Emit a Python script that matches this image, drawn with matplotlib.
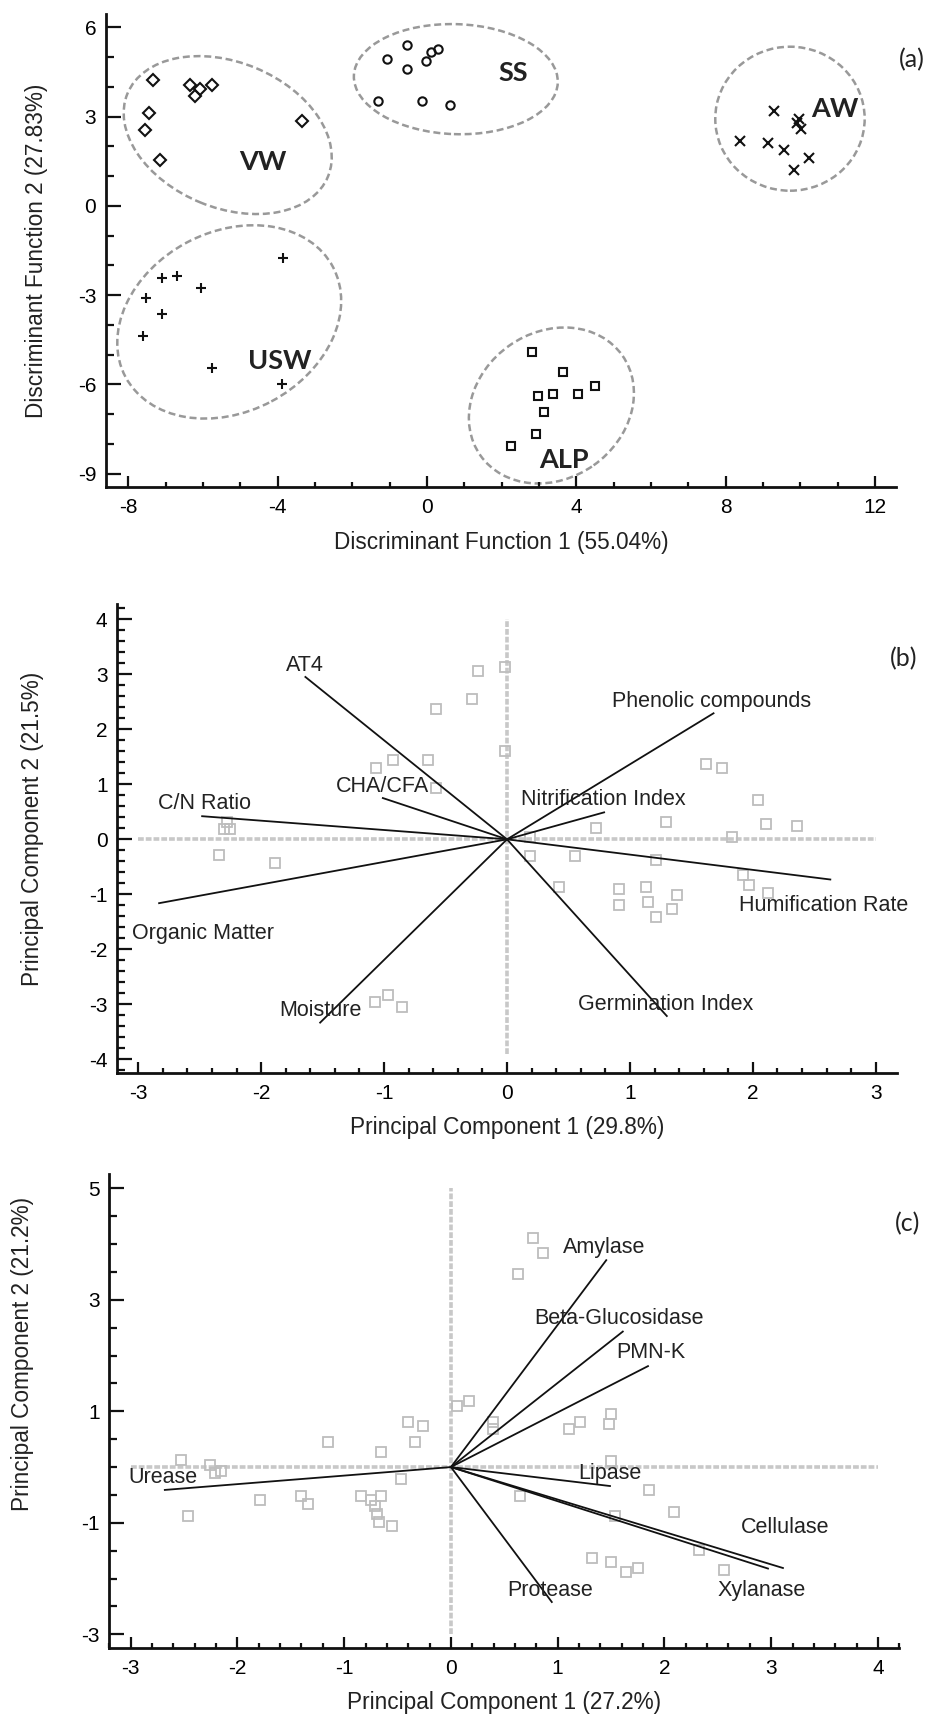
import matplotlib
matplotlib.use("Agg")
import matplotlib.pyplot as plt
from matplotlib.patches import Ellipse
from matplotlib.transforms import ScaledTranslation
from matplotlib.ticker import MultipleLocator

plt.rcParams['font.family'] = ['Liberation Sans', 'DejaVu Sans']
plt.rcParams['axes.unicode_minus'] = False

# ---------------- Panel (a) data: discriminant scores ----------------
vw_x = [-7.34, -7.44, -7.56, -7.15, -6.34, -6.09, -6.21, -5.76, -3.34]
vw_y = [4.24, 3.11, 2.56, 1.55, 4.06, 3.93, 3.68, 4.06, 2.84]
ss_x = [-1.08, -0.53, -0.53, -0.02, 0.11, 0.28, -1.32, -0.13, 0.61]
ss_y = [4.93, 5.41, 4.60, 4.86, 5.18, 5.27, 3.51, 3.51, 3.39]
aw_x = [9.28, 9.95, 9.91, 10.01, 8.38, 9.12, 9.57, 10.24, 9.84]
aw_y = [3.18, 2.92, 2.77, 2.58, 2.17, 2.10, 1.89, 1.62, 1.22]
usw_x = [-3.85, -7.11, -6.71, -6.05, -7.52, -7.11, -7.62, -5.77, -3.89]
usw_y = [-1.74, -2.42, -2.36, -2.75, -3.10, -3.64, -4.37, -5.46, -6.00]
alp_x = [2.80, 3.65, 4.49, 2.97, 3.36, 4.04, 3.14, 2.92, 2.24]
alp_y = [-4.91, -5.58, -6.06, -6.39, -6.32, -6.32, -6.92, -7.67, -8.08]
group_names = ["VW", "SS", "AW", "USW", "ALP"]

# ---------------- Panel (b) data: PCA of physico-chemical variables ----------------
b_scores_x = [-0.574, -1.062, -0.927, -0.642, -0.574, -2.28, -2.30, -2.25, -2.34, -1.89,
              -0.236, -0.019, -0.287, -0.019, 1.615, 1.75, 2.04, 1.296, 2.105, 2.36,
              0.721, 1.83, 0.185, 0.185, 0.55, 1.215, 1.92, 1.97, 2.12, 0.42,
              0.908, 1.128, 1.38, 0.908, 1.144, 1.345, 1.209, -1.076, -0.967, -0.858]
b_scores_y = [2.37, 1.29, 1.44, 1.44, 0.93, 0.31, 0.19, 0.19, -0.28, -0.43,
              3.05, 3.13, 2.55, 1.61, 1.36, 1.29, 0.72, 0.31, 0.28, 0.24,
              0.21, 0.04, 0.04, -0.30, -0.30, -0.37, -0.65, -0.83, -0.98, -0.87,
              -0.91, -0.86, -1.01, -1.19, -1.13, -1.27, -1.42, -2.96, -2.82, -3.04]
b_vars = ["AT4", "CHA/CFA", "C/N Ratio", "Organic Matter", "Moisture",
          "Phenolic compounds", "Nitrification Index", "Humification Rate", "Germination Index"]
b_load_x = [-1.64, -1.01, -2.48, -2.83, -1.52, 1.68, 0.79, 2.63, 1.30]
b_load_y = [2.95, 0.75, 0.42, -1.16, -3.33, 2.29, 0.49, -0.73, -3.21]

# ---------------- Panel (c) data: PCA of enzymatic activities ----------------
c_scores_x = [0.766, 0.867, 0.632, 0.172, 0.053, 1.496, 1.205, 0.39, 0.39, 1.104,
              1.477, 1.496, 1.853, 0.648, 2.087, 1.533, 2.325, 1.32, 1.496, 1.637,
              1.752, 2.56, -0.398, -0.257, -0.338, -1.149, -0.652, -2.526, -2.254, -2.15,
              -2.207, -0.47, -1.79, -1.40, -1.337, -0.845, -0.746, -0.652, -0.711, -0.689,
              -0.673, -0.554, -2.464]
c_scores_y = [4.10, 3.84, 3.47, 1.18, 1.10, 0.96, 0.81, 0.81, 0.68, 0.68,
              0.78, 0.10, -0.41, -0.51, -0.80, -0.88, -1.49, -1.63, -1.71, -1.89,
              -1.81, -1.85, 0.81, 0.74, 0.45, 0.45, 0.27, 0.13, 0.04, -0.07,
              -0.11, -0.22, -0.59, -0.52, -0.66, -0.52, -0.59, -0.52, -0.69, -0.84,
              -0.98, -1.06, -0.88]
c_vars = ["Amylase", "Beta-Glucosidase", "PMN-K", "Lipase", "Cellulase",
          "Xylanase", "Protease", "Urease"]
c_load_x = [1.455, 1.61, 1.846, 1.49, 3.11, 2.97, 0.945, -2.68]
c_load_y = [3.71, 2.43, 1.81, -0.34, -1.81, -1.82, -2.42, -0.41]

# ---------------- layout / style (not data) ----------------
W, H = 928, 1716
fig = plt.figure(figsize=(W / 100, H / 100), dpi=100)

def axes_px(l, t, r, b):
    return fig.add_axes([l / W, 1 - b / H, (r - l) / W, (b - t) / H])

TICK_FS = 15
LABEL_FS = 16.3
VAR_FS = 15.5
GRAY_REF = "#c8c8c8"
GRAY_PT = "#bdbdbd"

def style_axes(ax, xmaj, xmin, ymaj, ymin):
    for s in ["top", "right"]:
        ax.spines[s].set_visible(False)
    for s in ["left", "bottom"]:
        ax.spines[s].set_linewidth(2.0)
        ax.spines[s].set_color("#111111")
    ax.xaxis.set_major_locator(MultipleLocator(xmaj))
    ax.xaxis.set_minor_locator(MultipleLocator(xmin))
    ax.yaxis.set_major_locator(MultipleLocator(ymaj))
    ax.yaxis.set_minor_locator(MultipleLocator(ymin))
    ax.tick_params(axis="x", which="major", direction="in", length=8, width=1.6,
                   labelsize=TICK_FS, pad=8, color="#111111")
    ax.tick_params(axis="x", which="minor", direction="in", length=3.3, width=1.6, color="#111111")
    ax.tick_params(axis="y", which="major", direction="in", length=11, width=1.6,
                   labelsize=TICK_FS, pad=7, color="#111111")
    ax.tick_params(axis="y", which="minor", direction="in", length=5.5, width=1.6, color="#111111")
    ax.set_facecolor("none")

# ================= Panel (a) =================
axa = axes_px(106, 14, 896, 487)
axa.set_xlim(-8.6, 12.56)
axa.set_ylim(-9.45, 6.45)
style_axes(axa, 4, 1, 3, 1)

mk = dict(linestyle="none", markerfacecolor="none", markeredgecolor="#111111", markeredgewidth=1.5)
axa.plot(vw_x, vw_y, marker="D", markersize=6.5, **mk)
axa.plot(ss_x, ss_y, marker="o", markersize=6, **mk)
axa.plot(aw_x, aw_y, marker="x", markersize=7.5, **mk)
axa.plot(usw_x, usw_y, marker="+", markersize=7.5, **mk)
axa.plot(alp_x, alp_y, marker="s", markersize=6, **mk)

# dashed group ellipses: (center x, center y, semi-axes in px, angle)
ellipses = [(-5.34, 2.38, 108.5, 72.7, -22.5),
            (0.77, 4.26, 102, 55, -2),
            (9.72, 2.93, 74.7, 72, 0),
            (-5.30, -3.90, 117.4, 90, 27.9),
            (3.33, -6.71, 86.8, 73.2, 35.2)]
for cx, cy, a, b, ang in ellipses:
    tr = fig.dpi_scale_trans + ScaledTranslation(cx, cy, axa.transData)
    e = Ellipse((0, 0), 2 * a / 100, 2 * b / 100, angle=ang, transform=tr,
                fill=False, edgecolor="#999999", linewidth=1.8,
                linestyle=(0, (2.8, 1.5)))
    axa.add_patch(e)

group_label_pos = [(-4.41, 1.47), (2.30, 4.46), (10.93, 3.26), (-3.94, -5.21), (3.67, -8.55)]
for name, (tx, ty) in zip(group_names, group_label_pos):
    axa.text(tx, ty, name, ha="center", va="center", fontsize=19.5,
             fontweight="bold", family="Lato", color="#222222")

axa.set_xlabel("Discriminant Function 1 (55.04%)", fontsize=LABEL_FS, va="center", color="#222222")
axa.set_ylabel("Discriminant Function 2 (27.83%)", fontsize=LABEL_FS, va="center", color="#222222")
axa.xaxis.set_label_coords(0.5, -0.118)
axa.yaxis.set_label_coords(-0.0886, 0.5)
axa.text(1.02, 0.903, "(a)", transform=axa.transAxes, ha="center", va="center",
         fontsize=18, family="Lato", color="#222222")

# ================= Panel (b) =================
axb = axes_px(117.3, 604.3, 896.7, 1072.7)
axb.set_xlim(-3.17, 3.17)
axb.set_ylim(-4.24, 4.27)
style_axes(axb, 1, 0.2, 1, 0.2)
ref = dict(color=GRAY_REF, linewidth=2.6, linestyle=(0, (1.6, 0.55)), zorder=1)
axb.plot([-3, 3], [0, 0], **ref)
axb.plot([0, 0], [-3.9, 4], **ref)
axb.plot(b_scores_x, b_scores_y, linestyle="none", marker="s", markersize=6.5,
         markerfacecolor="none", markeredgecolor=GRAY_PT, markeredgewidth=1.3, zorder=2)
for lx, ly in zip(b_load_x, b_load_y):
    axb.plot([0, lx], [0, ly], color="#111111", linewidth=1.3, zorder=3)
b_label_pos = [(-1.80, 3.16), (-1.39, 0.96), (-2.84, 0.65), (-3.05, -1.71), (-1.85, -3.11),
               (0.857, 2.51), (0.11, 0.72), (1.886, -1.20), (0.577, -3.0)]
for name, (tx, ty) in zip(b_vars, b_label_pos):
    axb.text(tx, ty, name, ha="left", va="center", fontsize=VAR_FS, color="#222222", zorder=4)
axb.set_xlabel("Principal Component 1 (29.8%)", fontsize=LABEL_FS, va="center", color="#222222")
axb.set_ylabel("Principal Component 2 (21.5%)", fontsize=LABEL_FS, va="center", color="#222222")
axb.xaxis.set_label_coords(0.5, -0.116)
axb.yaxis.set_label_coords(-0.1094, 0.52)
axb.text(1.009, 0.885, "(b)", transform=axb.transAxes, ha="center", va="center",
         fontsize=18, family="Lato", color="#222222")

# ================= Panel (c) =================
axc = axes_px(109.3, 1174.3, 899.3, 1648.3)
axc.set_xlim(-3.2, 4.2)
axc.set_ylim(-3.25, 5.25)
style_axes(axc, 1, 0.2, 2, 0.5)
axc.yaxis.set_major_locator(plt.FixedLocator([-3, -1, 1, 3, 5]))
axc.plot([-3, 4], [0, 0], **ref)
axc.plot([0, 0], [-3, 5], **ref)
axc.plot(c_scores_x, c_scores_y, linestyle="none", marker="s", markersize=6.5,
         markerfacecolor="none", markeredgecolor=GRAY_PT, markeredgewidth=1.3, zorder=2)
for lx, ly in zip(c_load_x, c_load_y):
    axc.plot([0, lx], [0, ly], color="#111111", linewidth=1.3, zorder=3)
c_label_pos = [(1.05, 3.94), (0.776, 2.66), (1.55, 2.05), (1.19, -0.12), (2.72, -1.09),
               (2.50, -2.22), (0.53, -2.22), (-3.02, -0.19)]
for name, (tx, ty) in zip(c_vars, c_label_pos):
    axc.text(tx, ty, name, ha="left", va="center", fontsize=VAR_FS, color="#222222", zorder=4)
axc.set_xlabel("Principal Component 1 (27.2%)", fontsize=LABEL_FS, va="center", color="#222222")
axc.set_ylabel("Principal Component 2 (21.2%)", fontsize=LABEL_FS, va="center", color="#222222")
axc.xaxis.set_label_coords(0.5, -0.115)
axc.yaxis.set_label_coords(-0.1105, 0.62)
axc.text(1.011, 0.895, "(c)", transform=axc.transAxes, ha="center", va="center",
         fontsize=18, family="Lato", color="#222222")

fig.savefig("out.png", dpi=100)
